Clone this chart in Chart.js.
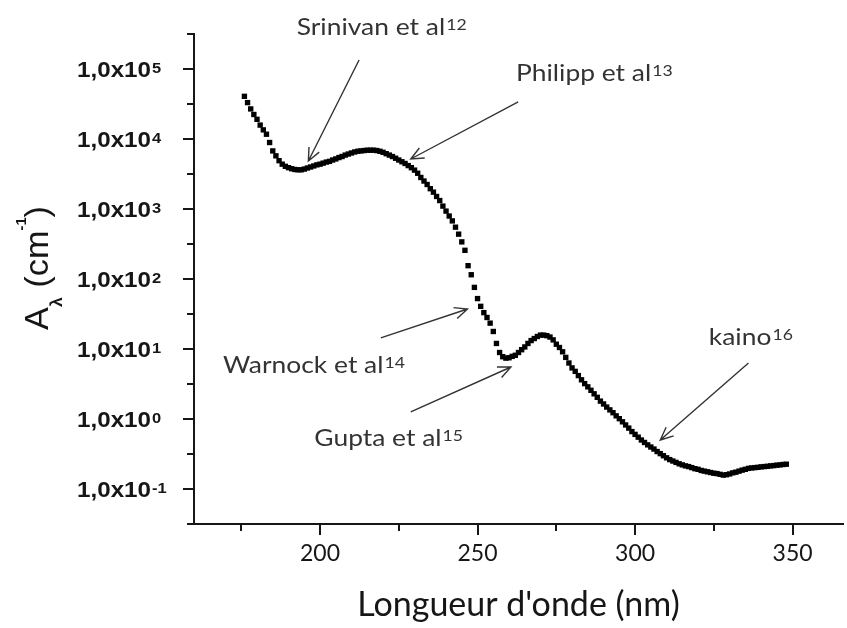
<!DOCTYPE html>
<html>
<head>
<meta charset="utf-8">
<script src="https://cdn.jsdelivr.net/npm/chart.js@4/dist/chart.umd.min.js"></script>
<style>
  html, body { margin: 0; padding: 0; background: #ffffff; }
  #wrap { width: 847px; height: 628px; }
</style>
</head>
<body>
<div id="wrap"><canvas id="chart" width="847" height="628"></canvas></div>
<script>
// Wavelength (nm) of each measured point
const wavelengths = [
  176,177,178,179,180,181,182,183,184,185,186,187,188,189,190,191,192,193,194,195,
  196,197,198,199,200,201,202,203,204,205,206,207,208,209,210,211,212,213,214,215,
  216,217,218,219,220,221,222,223,224,225,226,227,228,229,230,231,232,233,234,235,
  236,237,238,239,240,241,242,243,244,245,246,247,248,249,250,251,252,253,254,255,
  256,257,258,259,260,261,262,263,264,265,266,267,268,269,270,271,272,273,274,275,
  276,277,278,279,280,281,282,283,284,285,286,287,288,289,290,291,292,293,294,295,
  296,297,298,299,300,301,302,303,304,305,306,307,308,309,310,311,312,313,314,315,
  316,317,318,319,320,321,322,323,324,325,326,327,328,329,330,331,332,333,334,335,
  336,337,338,339,340,341,342,343,344,345,346,347,348
];

// Absorption coefficient A(lambda) in cm^-1
const absorption = [
  40700,33100,26900,22400,19100,15800,13500,11700,8910,6760,5750,4900,4370,4070,3890,3760,3670,3630,3630,3720,
  3850,3980,4120,4270,4370,4520,4680,4790,5010,5190,5430,5620,5890,6100,6310,6530,6680,6760,6840,6920,
  6920,6920,6840,6680,6460,6170,5890,5620,5310,5010,4730,4470,4170,3890,3590,3240,2820,2510,2240,1950,
  1740,1510,1320,1100,933,794,676,550,437,339,257,155,115,75.9,52.5,40.7,33.1,28.2,23.4,17.8,
  12.0,8.91,7.76,7.41,7.50,7.85,8.13,8.91,9.77,10.7,12.0,13.2,14.1,15.1,15.8,15.8,15.5,14.8,13.5,11.7,
  10.5,9.12,7.59,6.31,5.37,4.79,4.17,3.63,3.20,2.88,2.57,2.29,2.04,1.80,1.64,1.48,1.35,1.23,1.11,1.01,
  0.912,0.822,0.741,0.661,0.603,0.550,0.501,0.462,0.427,0.398,0.372,0.343,0.320,0.299,0.279,0.263,0.251,0.240,0.229,0.221,
  0.214,0.209,0.202,0.195,0.191,0.184,0.180,0.176,0.172,0.168,0.166,0.162,0.158,0.160,0.164,0.170,0.174,0.180,0.186,0.191,
  0.197,0.200,0.202,0.204,0.207,0.209,0.211,0.214,0.216,0.219,0.221,0.224,0.226
];

// Axis ticks
const xTicks = [175, 200, 225, 250, 275, 300, 325, 350];
const xTickLabels = [200, 250, 300, 350];
const yDecades = [-1, 0, 1, 2, 3, 4, 5];

// Literature references pointed at along the curve
const refNames = ['Srinivan et al', 'Philipp et al', 'Warnock et al', 'Gupta et al', 'kaino'];
const refNumbers = ['12', '13', '14', '15', '16'];
// text anchor (left, baseline) in data units: [nm, cm^-1]
const refTextAt = [[192.6, 306000], [262.2, 67400], [169.2, 4.54], [198.2, 0.411], [323.4, 11.4]];
// arrow tail and head in data units
const refArrowFrom = [[212.4, 134500], [262.9, 33800], [219.3, 14.4], [228.8, 1.26], [336.0, 6.31]];
const refArrowTo = [[196.3, 4850], [228.8, 5180], [246.8, 37.3], [260.6, 5.53], [308.0, 0.501]];

const INK = '#161616';
const NOTE = '#333333';

// Draws main text followed by a raised smaller part, optionally stretched horizontally
function drawSup(ctx, x, y, main, sup, mainFont, supFont, rise, sx) {
  ctx.save();
  ctx.translate(x, y);
  ctx.scale(sx, 1);
  ctx.textAlign = 'left';
  ctx.textBaseline = 'alphabetic';
  ctx.font = mainFont;
  ctx.fillText(main, 0, 0);
  const w = ctx.measureText(main).width;
  ctx.font = supFont;
  ctx.fillText(sup, w + 1, -rise);
  ctx.restore();
}

const decorations = {
  id: 'decorations',
  afterDraw(chart) {
    const ctx = chart.ctx;
    const xs = chart.scales.x;
    const ys = chart.scales.y;
    const area = chart.chartArea;

    ctx.save();
    ctx.strokeStyle = INK;
    ctx.lineWidth = 2;
    // y tick marks: decades long, half decades short
    for (let k = -3; k <= 11; k++) {
      const py = Math.round(ys.getPixelForValue(Math.pow(10, k / 2)));
      const len = (k % 2 === 0) ? 11 : 7;
      ctx.beginPath();
      ctx.moveTo(area.left - len, py);
      ctx.lineTo(area.left, py);
      ctx.stroke();
    }
    // x tick marks
    xTicks.forEach(v => {
      const px = Math.round(xs.getPixelForValue(v));
      const len = xTickLabels.includes(v) ? 11 : 7;
      ctx.beginPath();
      ctx.moveTo(px, area.bottom);
      ctx.lineTo(px, area.bottom + len);
      ctx.stroke();
    });
    // short extension of the x axis to the left of the y axis
    ctx.beginPath();
    ctx.moveTo(area.left - 7, area.bottom);
    ctx.lineTo(area.left, area.bottom);
    ctx.stroke();
    ctx.restore();

    // y tick labels with exponent
    ctx.save();
    ctx.fillStyle = INK;
    yDecades.forEach(k => {
      const py = ys.getPixelForValue(Math.pow(10, k));
      drawSup(ctx, 77, py + 8, '1,0x10', String(k),
        'bold 22px "Liberation Sans", Arial, sans-serif',
        'bold 15px "Liberation Sans", Arial, sans-serif', 4, 1.1);
    });
    ctx.restore();

    // y axis title: A with lambda subscript, (cm^-1)
    ctx.save();
    ctx.fillStyle = INK;
    ctx.translate(48, 268);
    ctx.rotate(-Math.PI / 2);
    ctx.scale(1.04, 1);
    ctx.textBaseline = 'alphabetic';
    const fBig = '33px "Liberation Sans", Arial, sans-serif';
    const fSub = 'bold 17px "Liberation Sans", Arial, sans-serif';
    const fSup = 'bold 14px "Liberation Sans", Arial, sans-serif';
    const parts = [
      ['A', fBig, 0], ['\u03bb', fSub, 14], [' (cm', fBig, 0], ['-1', fSup, -22], [')', fBig, 0]
    ];
    let total = 0;
    parts.forEach(p => { ctx.font = p[1]; total += ctx.measureText(p[0]).width; });
    let cx = -total / 2;
    parts.forEach(p => {
      ctx.font = p[1];
      ctx.fillText(p[0], cx, p[2]);
      cx += ctx.measureText(p[0]).width;
    });
    ctx.restore();

    // reference arrows
    ctx.save();
    ctx.strokeStyle = NOTE;
    ctx.lineWidth = 1.4;
    refArrowFrom.forEach((from, i) => {
      const x1 = xs.getPixelForValue(from[0]);
      const y1 = ys.getPixelForValue(from[1]);
      const x2 = xs.getPixelForValue(refArrowTo[i][0]);
      const y2 = ys.getPixelForValue(refArrowTo[i][1]);
      const ang = Math.atan2(y2 - y1, x2 - x1);
      const head = 14;
      const spread = 0.42;
      ctx.beginPath();
      ctx.moveTo(x1, y1);
      ctx.lineTo(x2, y2);
      ctx.moveTo(x2 - head * Math.cos(ang - spread), y2 - head * Math.sin(ang - spread));
      ctx.lineTo(x2, y2);
      ctx.lineTo(x2 - head * Math.cos(ang + spread), y2 - head * Math.sin(ang + spread));
      ctx.stroke();
    });
    ctx.restore();

    // reference labels
    ctx.save();
    ctx.fillStyle = NOTE;
    refNames.forEach((name, i) => {
      const px = xs.getPixelForValue(refTextAt[i][0]);
      const py = ys.getPixelForValue(refTextAt[i][1]);
      drawSup(ctx, px, py, name, refNumbers[i],
        '24px Lato, "Open Sans", sans-serif', '16px Lato, "Open Sans", sans-serif', 5, 1.1);
    });
    ctx.restore();
  }
};

new Chart(document.getElementById('chart'), {
  type: 'scatter',
  data: {
    datasets: [{
      data: wavelengths.map((w, i) => ({ x: w, y: absorption[i] })),
      showLine: false,
      pointStyle: 'rect',
      pointRadius: 3.8,
      pointBorderWidth: 0,
      backgroundColor: '#000000',
      borderColor: '#000000'
    }]
  },
  options: {
    responsive: false,
    animation: false,
    devicePixelRatio: 1,
    layout: { padding: { top: 34, right: 0, left: 0, bottom: 0 } },
    plugins: { legend: { display: false }, tooltip: { enabled: false } },
    scales: {
      x: {
        type: 'linear',
        min: 160,
        max: 366,
        afterBuildTicks: s => { s.ticks = xTicks.map(v => ({ value: v })); },
        afterFit: s => { s.height = 104; },
        ticks: {
          autoSkip: false,
          maxRotation: 0,
          padding: 16,
          color: INK,
          font: { family: 'Lato', size: 23 },
          callback: v => (xTickLabels.includes(v) ? String(v) : '')
        },
        grid: { display: false, drawTicks: false },
        border: { display: true, color: INK, width: 2 },
        title: {
          display: true,
          text: "Longueur d'onde (nm)",
          color: INK,
          font: { family: 'Lato', size: 34 },
          padding: { top: 0, bottom: 3 }
        }
      },
      y: {
        type: 'logarithmic',
        min: Math.pow(10, -1.5),
        max: Math.pow(10, 5.5),
        afterFit: s => { s.width = 194; },
        ticks: { display: false },
        grid: { display: false, drawTicks: false },
        border: { display: true, color: INK, width: 2 }
      }
    }
  },
  plugins: [decorations]
});
</script>
</body>
</html>
